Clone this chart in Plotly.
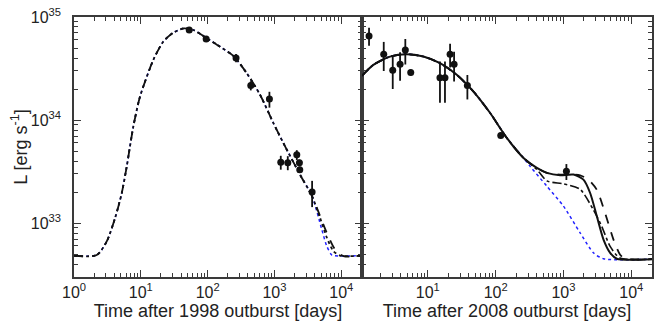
import plotly.graph_objects as go

# ---- left panel: 1998 outburst ----
obs98_t = [53, 95, 266, 442, 840, 1242, 1582, 2157, 2360, 2390, 3657]
obs98_L = [7.5e34, 6.1e34, 4.0e34, 2.16e34, 1.6e34, 3.9e33, 3.86e33, 4.6e33, 3.86e33, 3.3e33, 2.0e33]
obs98_err = [1.0e33, 1.2e33, 3.7e33, 2.2e33, 2.8e33, 0.6e33, 0.6e33, 0.5e33, 0.27e33, 0.23e33, 0.57e33]

# model curve shared by all three models up to ~4000 d
m98_t = [1, 2.19, 3.09, 4.11, 5.18, 6.15, 7.73, 9.73, 15.4, 21.7, 30.7, 44.7, 63.1, 97.0,
         153.5, 242.7, 384.6, 608, 964, 1358, 2415, 3656]
m98_L = [4.82e32, 4.9e32, 6.64e32, 1.117e33, 1.95e33, 3.53e33, 8.67e33, 1.69e34, 3.84e34, 5.77e34,
         7.05e34, 7.76e34, 7.41e34, 6.22e34, 5.15e34, 4.19e34, 2.85e34, 1.76e34, 9.35e33, 5.98e33,
         2.95e33, 1.82e33]
# tails
m98_dash_t = [4819, 6067, 8072, 10765, 20400]
m98_dash_L = [1.167e33, 8.05e32, 5.55e32, 4.79e32, 4.82e32]
m98_dd_t = [4819, 6067, 7586, 9550, 20400]
m98_dd_L = [1.12e33, 7.25e32, 5.37e32, 4.84e32, 4.82e32]
m98_blue_t = [5105, 6067, 7211, 7943, 20400]
m98_blue_L = [8.67e32, 5.97e32, 4.9e32, 4.82e32, 4.82e32]

# ---- right panel: 2008 outburst ----
obs08_t = [1.36, 2.24, 3.04, 3.9, 4.66, 5.6, 15.1, 17.9, 21.3, 24.4, 38.3, 119, 1104]
obs08_L = [6.55e34, 4.36e34, 3.05e34, 3.48e34, 4.79e34, 2.89e34, 2.58e34, 2.58e34, 4.36e34,
           3.48e34, 2.16e34, 7.1e33, 3.18e33]
obs08_err = [1.3e34, 1.37e34, 1.05e34, 1.08e34, 1.33e34, 0.19e34, 1.11e34, 1.11e34, 1.13e34,
             1.12e34, 0.575e34, 0.47e33, 0.56e33]

m08_t = [1.072, 1.574, 2.773, 4.887, 8.59, 15.14, 26.7, 47.1, 83.0, 146.2, 257.6]
m08_L = [2.69e34, 3.43e34, 4.13e34, 4.36e34, 4.13e34, 3.56e34, 2.75e34, 1.89e34, 1.17e34,
         6.7e33, 4.29e33]
m08_solid_t = [405.5, 568.9, 893.3, 1406, 1968, 2472, 3097, 3890, 4875, 6109, 20180]
m08_solid_L = [3.43e33, 3.07e33, 2.91e33, 2.96e33, 2.64e33, 1.96e33, 1.17e33, 6.93e32, 5.15e32,
               4.51e32, 4.47e32]
m08_dash_t = [405.5, 568.9, 893.3, 1406, 1758, 2333, 3097, 4111, 5458, 6839, 8110, 20180]
m08_dash_L = [3.43e33, 3.07e33, 2.95e33, 2.95e33, 2.91e33, 2.64e33, 2.11e33, 1.25e33, 6.92e32,
              4.93e32, 4.51e32, 4.47e32]
m08_dd_t = [405.5, 568.9, 1000, 1758, 2767, 3673, 4875, 6839, 20180]
m08_dd_L = [3.31e33, 2.57e33, 2.4e33, 2.13e33, 1.34e33, 9.27e32, 5.94e32, 4.58e32, 4.47e32]
m08_blue_t = [322.8, 568.9, 1000, 1758, 2767, 3890, 20180]
m08_blue_L = [3.55e33, 2.28e33, 1.46e33, 8.05e32, 5.15e32, 4.51e32, 4.47e32]

xticks = [1, 10, 100, 1000, 10000]
xtick_text = ['10<sup>0</sup>', '10<sup>1</sup>', '10<sup>2</sup>', '10<sup>3</sup>', '10<sup>4</sup>']
yticks = [1e33, 1e34, 1e35]
ytick_text = ['10<sup>33</sup>', '10<sup>34</sup>', '10<sup>35</sup>']

BLACK = '#111111'
BLUE = '#2020ff'
AXC = '#3a3a3a'
TXT = '#222222'

fig = go.Figure()


def model(x, y, xa, ya, color, dash, width=1.8):
    fig.add_trace(go.Scatter(x=x, y=y, xaxis=xa, yaxis=ya, mode='lines',
                             line=dict(color=color, dash=dash, width=width, shape='spline', smoothing=0.7),
                             showlegend=False, hoverinfo='skip'))


# left panel models (blue underneath)
model(m98_t + m98_blue_t, m98_L + m98_blue_L, 'x', 'y', BLUE, 'dot', 1.5)
model(m98_t + m98_dd_t, m98_L + m98_dd_L, 'x', 'y', BLACK, 'dot', 1.8)
model(m98_t + m98_dash_t, m98_L + m98_dash_L, 'x', 'y', BLACK, 'dash', 1.8)

# right panel models
model(m08_t + m08_blue_t, m08_L + m08_blue_L, 'x2', 'y2', BLUE, 'dot', 1.5)
model(m08_t + m08_dd_t, m08_L + m08_dd_L, 'x2', 'y2', BLACK, 'dashdot', 1.6)
model(m08_t + m08_dash_t, m08_L + m08_dash_L, 'x2', 'y2', BLACK, 'dash')
model(m08_t + m08_solid_t, m08_L + m08_solid_L, 'x2', 'y2', BLACK, 'solid', 2)

for t, L, e, xa, ya in [(obs98_t, obs98_L, obs98_err, 'x', 'y'),
                        (obs08_t, obs08_L, obs08_err, 'x2', 'y2')]:
    fig.add_trace(go.Scatter(x=t, y=L, xaxis=xa, yaxis=ya, mode='markers',
                             marker=dict(color=BLACK, size=7),
                             error_y=dict(type='data', array=e, color=BLACK, thickness=1.8, width=0),
                             showlegend=False))

xcommon = dict(type='log', tickmode='array', tickvals=xticks, ticktext=xtick_text,
               ticks='inside', ticklen=7, tickwidth=1.2, tickcolor=AXC,
               minor=dict(ticks='inside', ticklen=4, tickwidth=1, tickcolor=AXC,
                          tickvals=[m * 10.0 ** e for e in range(0, 5) for m in range(2, 10)]),
               showline=True, linecolor=AXC, linewidth=1.5, mirror='ticks',
               showgrid=False, zeroline=False, automargin=False, ticklabeloverflow='allow',
               tickfont=dict(size=16, color=TXT), title_font=dict(size=18, color=TXT))
ycommon = dict(type='log', range=[32.477, 35], tickmode='array', tickvals=yticks, ticktext=ytick_text,
               ticks='inside', ticklen=7, tickwidth=1.2, tickcolor=AXC,
               minor=dict(ticks='inside', ticklen=4, tickwidth=1, tickcolor=AXC,
                          tickvals=[m * 10.0 ** e for e in range(32, 35) for m in range(2, 10)]),
               showline=True, linecolor=AXC, linewidth=1.5, mirror='ticks',
               showgrid=False, zeroline=False, automargin=False, ticklabeloverflow='allow',
               tickfont=dict(size=16, color=TXT), title_font=dict(size=18, color=TXT))

# the page body adds 8px, so margins are shifted up/left by that much
fig.update_layout(
    width=664, height=335,
    margin=dict(l=66, r=20, t=9, b=66),
    paper_bgcolor='white', plot_bgcolor='white',
    font=dict(family='Arial, Liberation Sans, sans-serif', size=16, color=TXT),
    xaxis=dict(xcommon, domain=[0, 0.4983], range=[0, 4.31], anchor='y',
               title=dict(text='Time after 1998 outburst [days]', standoff=4)),
    xaxis2=dict(xcommon, domain=[0.4983, 1], range=[0.03, 4.305], anchor='y2',
                title=dict(text='Time after 2008 outburst [days]', standoff=4)),
    yaxis=dict(ycommon, anchor='x', ticklabelstandoff=8,
               title=dict(text='L [erg s<sup>-1</sup>]', standoff=4)),
    yaxis2=dict(ycommon, anchor='x2', matches='y', showticklabels=False),
)

fig.write_html("out.html")
